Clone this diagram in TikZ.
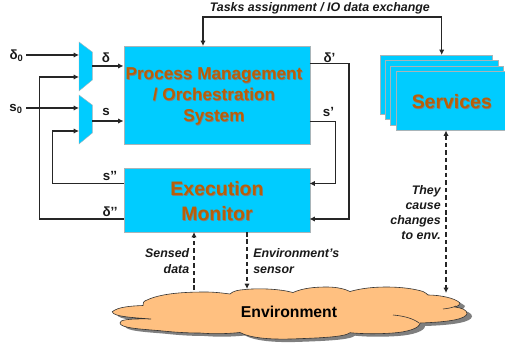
\documentclass[tikz,border=0pt]{standalone}
\usepackage{fontspec}
\setmainfont{Liberation Sans}
\usetikzlibrary{arrows.meta,calc}
\definecolor{boxfill}{HTML}{00CCFF}
\definecolor{boxedge}{HTML}{A8B4B8}
\definecolor{titlecol}{HTML}{B85F08}
\definecolor{shadecol}{HTML}{7F7F7F}
\definecolor{cloudfill}{HTML}{FFC080}
\tikzset{
  x=0.75pt,y=-0.75pt,
  panel/.style={draw=boxedge,fill=boxfill,line width=0.6pt,minimum width=0,inner sep=0},
  title/.style={font=\bfseries\fontsize{12.9}{15.8}\selectfont,text=titlecol,align=center,inner sep=0},
  titleshade/.style={font=\bfseries\fontsize{12.9}{15.8}\selectfont,text=shadecol,align=center,inner sep=0},
  big/.style={font=\bfseries\fontsize{14.6}{18.5}\selectfont},
  sig/.style={font=\bfseries\fontsize{10}{11}\selectfont,inner sep=0,text=black!90},
  note/.style={font=\bfseries\itshape\fontsize{9.3}{11.4}\selectfont,inner sep=0,text=black!90},
  wire/.style={draw=black!85,line width=0.95pt,-{Latex[length=4pt,width=4pt]}},
  wireplain/.style={draw=black!85,line width=0.95pt},
  dashwire/.style={draw=black!85,line width=0.95pt,dash pattern=on 3.4pt off 2.2pt},
  tip/.style={-{Latex[length=4pt,width=4pt]}},
  tips/.style={{Latex[length=4pt,width=4pt]}-{Latex[length=4pt,width=4pt]}},
}
\begin{document}
\begin{tikzpicture}
\useasboundingbox (0,0) rectangle (505,345);
% cloud
\def\cloudpath{(112.3,311.7) .. controls (118,307) and (130,306) .. (143,305.5)
 .. controls (142,303) and (144,301) .. (147,300) .. controls (160,294) and (180,292) .. (205,292)
 .. controls (215,292) and (222,293) .. (230,294) .. controls (233,291) and (238,290) .. (245,289.5)
 .. controls (260,288) and (280,289) .. (293,292.5) .. controls (303,288) and (315,287) .. (327,287)
 .. controls (337,287) and (345,289) .. (350,291.5) .. controls (362,288) and (375,287) .. (387,287)
 .. controls (402,287) and (415,289) .. (423,291.5) .. controls (426,293) and (427,294) .. (428,295)
 .. controls (440,295) and (455,298) .. (460,303) .. controls (460,305) and (458,306) .. (455,307)
 .. controls (462,308) and (467,310) .. (467,313.5) .. controls (466,319) and (450,322) .. (420,323)
 .. controls (420,328) and (408,332) .. (393,333) .. controls (380,334) and (362,334) .. (350,332.7)
 .. controls (345,337) and (320,338) .. (290,339) .. controls (270,339.5) and (250,338) .. (240,332.5)
 .. controls (225,334) and (212,334) .. (200,333) .. controls (185,333) and (172,332) .. (160,330.7)
 .. controls (140,329) and (120,328) .. (120,323) .. controls (119,320) and (128,318.5) .. (151,319)
 .. controls (140,318) and (112,317) .. (112.3,311.7) -- cycle}
\fill[shadecol] [shift={(5,3)}] \cloudpath;
\filldraw[draw=black!80,fill=cloudfill,line width=0.45pt] \cloudpath;
\draw[black!80,line width=0.45pt] (393,315) .. controls (405,316) and (414,319) .. (419,323);
\draw[black!80,line width=0.45pt] (443,309) .. controls (448,308.5) and (453,307.5) .. (456,306);
\node[font=\bfseries\fontsize{11.8}{14}\selectfont,inner sep=0] (env) at (289,312) {Environment};
% services
\path[panel] (380,55) rectangle (492,114);
\path[panel] (385.3,60.5) rectangle (498,119.5);
\path[panel] (390.5,66) rectangle (503,125);
\node[panel,minimum width=109.5*0.75pt,minimum height=59.5*0.75pt,anchor=north west] (svc) at (395.5,71) {};
\node[title,big,text=shadecol] at (452.5,103) {Services};
\node[title,big] (svctext) at (451.8,102) {Services};
% main boxes
\node[panel,anchor=north west,minimum width=186*0.75pt,minimum height=98*0.75pt] (proc) at (123.5,46) {};
\node[panel,anchor=north west,minimum width=186*0.75pt,minimum height=64*0.75pt] (exec) at (123.5,168) {};
\node[titleshade] at (214.7,97.2) {Process Management\\/ Orchestration\\System};
\node[title] (proctext) at (214,96.4) {Process Management\\/ Orchestration\\System};
\node[title,big,text=shadecol] at (217.7,202) {Execution\\Monitor};
\node[title,big] (exectext) at (217,201.2) {Execution\\Monitor};
% muxes
\fill[boxfill,draw=boxedge,line width=0.3pt] (79,42) -- (92.3,52) -- (92.3,80) -- (79,91) -- cycle;
\fill[boxfill,draw=boxedge,line width=0.3pt] (79,95) -- (92.3,105) -- (92.3,133) -- (79,144) -- cycle;
% coordinates
\coordinate (d0) at (26,55); \coordinate (m1a) at (79,55); \coordinate (m1b) at (79,77);
\coordinate (s0) at (26,108); \coordinate (m2a) at (79,108); \coordinate (m2b) at (79,131);
\coordinate (o1) at (92.3,66); \coordinate (o2) at (92.3,121);
\draw[wire] (d0) -- (m1a);
\draw[wire] (s0) -- (m2a);
\draw[wire] (o1) -- (123.5,66);
\draw[wire] (o2) -- (123.5,121);
\draw[wire] (123.5,219) -- (39.5,219) -- (39.5,77) -- (m1b);
\draw[wire] (123.5,183.5) -- (52.5,183.5) -- (52.5,131) -- (m2b);
\draw[wire] (309.5,63.5) -- (349,63.5) -- (349,219) -- (309.5,219);
\draw[wire] (309.5,121.7) -- (335.7,121.7) -- (335.7,183.5) -- (309.5,183.5);
\draw[wireplain,tips] (203,46) -- (203,17) -- (441.7,17) -- (441.7,55);
\draw[dashwire,tips] (446,130.5) -- (446,293);
\draw[dashwire,tip] (194,290) -- (194,232);
\draw[dashwire,tip] (247,232) -- (247,289);
% labels
\node[sig] (ld0) at (16.5,55.5) {δ\textsubscript{0}};
\node[sig] (ls0) at (16,109) {s\textsubscript{0}};
\node[sig] (ld) at (106,57.5) {δ};
\node[sig] (ls) at (106,112) {s};
\node[sig] (ldp) at (329.5,57.5) {δ’};
\node[sig] (lsp) at (328.5,112) {s’};
\node[sig] (lspp) at (110,176) {s’’};
\node[sig] (ldpp) at (110,212) {δ’’};
\node[note,anchor=west] (ltask) at (209.5,8) {Tasks assignment / IO data exchange};
\node[note,align=right,anchor=east] (lsens) at (189.5,261) {Sensed\\data};
\node[note,align=left,anchor=west] (lenvs) at (253,261) {Environment’s\\sensor};
\node[note,align=right,anchor=east] (lcause) at (441,212.5) {They\\cause\\changes\\to env.};
\end{tikzpicture}
\end{document}
